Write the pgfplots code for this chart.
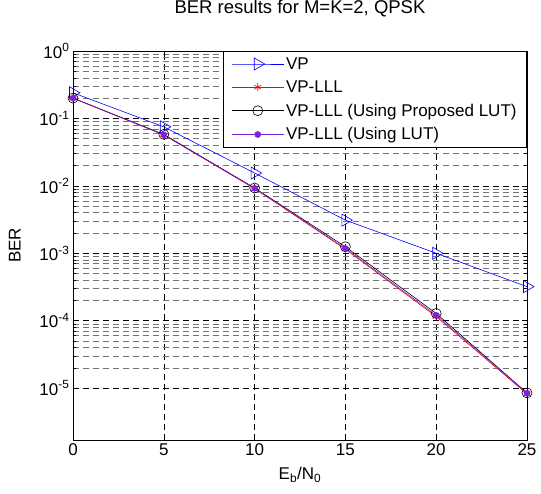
\documentclass[border=0pt]{standalone}
\usepackage{fontspec}
\setmainfont{Liberation Sans}
\usepackage{pgfplots}
\pgfplotsset{compat=1.18}
\usetikzlibrary{calc}
\definecolor{lutpurple}{HTML}{7F1FDF}

\begin{document}
\begin{tikzpicture}
\begin{axis}[
  name=ax, scale only axis, width=454pt, height=389pt,
  ymode=log, xmin=0, xmax=25, ymin=1.7e-6, ymax=1,
  xtick={0,5,10,15,20,25}, xticklabels={0,5,10,15,20,25},
  ytick={1e-5,1e-4,1e-3,1e-2,1e-1,1},
  yticklabels={10\textsuperscript{-5},10\textsuperscript{-4},10\textsuperscript{-3},10\textsuperscript{-2},10\textsuperscript{-1},10\textsuperscript{0}},
  font=\fontsize{17}{20}\selectfont,
  tick align=inside, xtick pos=both, ytick pos=both,
  major tick length=5pt, minor tick length=3pt,
  tick style={black, line width=0.5pt},
  grid=both,
  major grid style={dash pattern=on 6pt off 4pt, black, line width=0.5pt},
  minor grid style={dash pattern=on 6pt off 4pt, black!55, line width=0.5pt},
  axis line style={line width=0.8pt},
  clip=false,
  title={BER results for M=K=2, QPSK},
  title style={at={(axis description cs:0.5,1.0925)}, anchor=center, font=\fontsize{18.5}{21}\selectfont},
  xlabel={E\textsubscript{b}/N\textsubscript{0}},
  xlabel style={at={(axis description cs:0.5,-0.09)}, anchor=center},
  ylabel={BER},
  ylabel style={at={(axis description cs:-0.128,0.5)}, anchor=center},
  legend cell align=left,
  legend style={at={(1,1)}, anchor=north east, draw=black, line width=0.8pt,
    fill=white, row sep=6pt, inner xsep=8pt, inner ysep=4pt},
  legend image code/.code={\draw[mark repeat=2,mark phase=2] plot coordinates {(0pt,0pt) (26pt,0pt) (52pt,0pt)};},
]
\addplot[blue, line width=0.6pt, mark=triangle, mark size=7pt, mark options={rotate=-90, fill=none, line width=0.6pt}]
  coordinates {(0,0.24)(5,0.075)(10,0.0155)(15,0.0031)(20,0.001)(25,0.00032)};
\addplot[red, line width=0.6pt, mark=asterisk, mark size=4pt, mark options={line width=0.6pt}]
  coordinates {(0,0.2)(5,0.057)(10,0.0091)(15,0.00115)(20,0.000115)(25,8.2e-6)};
\addplot[black, line width=0.6pt, mark=o, mark size=5pt, mark options={fill=none, line width=0.6pt}]
  coordinates {(0,0.2)(5,0.058)(10,0.0093)(15,0.00125)(20,0.000128)(25,8.5e-6)};
\addplot[lutpurple, line width=0.6pt, mark=*, mark size=3pt]
  coordinates {(0,0.2)(5,0.057)(10,0.0092)(15,0.00118)(20,0.00012)(25,8.4e-6)};
\legend{VP,VP-LLL,VP-LLL (Using Proposed LUT),VP-LLL (Using LUT)}
\end{axis}
\pgfresetboundingbox
\path[use as bounding box] ($(ax.south west)+(-73pt,-53pt)$) rectangle ($(ax.north east)+(14pt,51pt)$);
\end{tikzpicture}
\end{document}
